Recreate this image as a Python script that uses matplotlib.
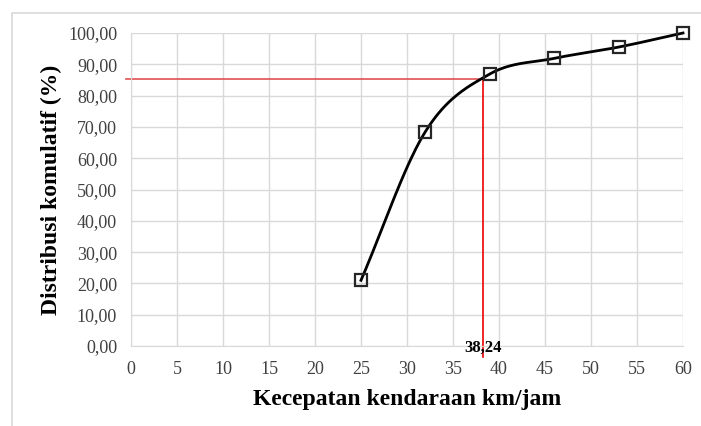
import numpy as np
import matplotlib
matplotlib.use('Agg')
import matplotlib.pyplot as plt
from matplotlib.patches import Rectangle

# data
kecepatan = [25, 32, 39, 46, 53, 60]
distribusi = [21.0, 68.5, 86.9, 91.9, 95.5, 100.0]
nilai_x = 38.24
nilai_y = 85.3

plt.rcParams['font.family'] = 'Liberation Serif'


def catmull_rom(x, y, n=40):
    # smoothed line like Excel
    x = np.asarray(x, float)
    y = np.asarray(y, float)
    px = np.concatenate([[2 * x[0] - x[1]], x, [2 * x[-1] - x[-2]]])
    py = np.concatenate([[2 * y[0] - y[1]], y, [2 * y[-1] - y[-2]]])
    xs, ys = [], []
    t = np.linspace(0, 1, n)
    for i in range(1, len(px) - 2):
        for p, out in ((px, xs), (py, ys)):
            p0, p1, p2, p3 = p[i - 1], p[i], p[i + 1], p[i + 2]
            out.extend(0.5 * (2 * p1 + (-p0 + p2) * t
                              + (2 * p0 - 5 * p1 + 4 * p2 - p3) * t ** 2
                              + (-p0 + 3 * p1 - 3 * p2 + p3) * t ** 3))
    return xs, ys


fig = plt.figure(figsize=(7.01, 4.26), dpi=100)
fig.patches.append(Rectangle((12 / 701, -0.05), 1.0, (426 - 13) / 426 + 0.05,
                             transform=fig.transFigure, fill=False,
                             edgecolor='#d9d9d9', linewidth=1.2))
ax = fig.add_axes([131 / 701, 1 - 346 / 426, 552 / 701, 313 / 426])

ax.set_xlim(0, 60)
ax.set_ylim(0, 100)
ax.set_xticks(np.arange(0, 61, 5))
ax.set_yticks(np.arange(0, 101, 10))
ax.set_yticklabels([f'{v:.2f}'.replace('.', ',') for v in np.arange(0, 101, 10)])
ax.grid(True, color='#d9d9d9', linewidth=1)
ax.set_axisbelow(True)
for s in ['top', 'right']:
    ax.spines[s].set_visible(False)
for s in ['left', 'bottom']:
    ax.spines[s].set_color('#d9d9d9')
ax.tick_params(length=0, labelsize=13, colors='#404040')
ax.tick_params(axis='y', pad=10)
ax.tick_params(axis='x', pad=11)

# red guide lines
ax.plot([-0.5, nilai_x], [nilai_y, nilai_y], color='#e05050', linewidth=1.2,
        clip_on=False, zorder=2)
ax.plot([nilai_x, nilai_x], [nilai_y, -3.5], color='#ee0000', linewidth=1.2,
        clip_on=False, zorder=2)

sx, sy = catmull_rom(kecepatan, distribusi)
ax.plot(sx, sy, color='black', linewidth=2, zorder=3, clip_on=False)
ax.plot(kecepatan, distribusi, linestyle='none', marker='s', markersize=9,
        markerfacecolor='none', markeredgecolor='#262626', markeredgewidth=1.6,
        zorder=4, clip_on=False)

ax.text(nilai_x, 1.8, '38,24', ha='center', va='top', fontsize=12,
        fontweight='bold', zorder=5)

ax.set_xlabel('Kecepatan kendaraan km/jam', fontsize=17, fontweight='bold', labelpad=8)
ax.set_ylabel('Distribusi komulatif (%)', fontsize=17, fontweight='bold', labelpad=4)

fig.savefig('out.png', dpi=100)
